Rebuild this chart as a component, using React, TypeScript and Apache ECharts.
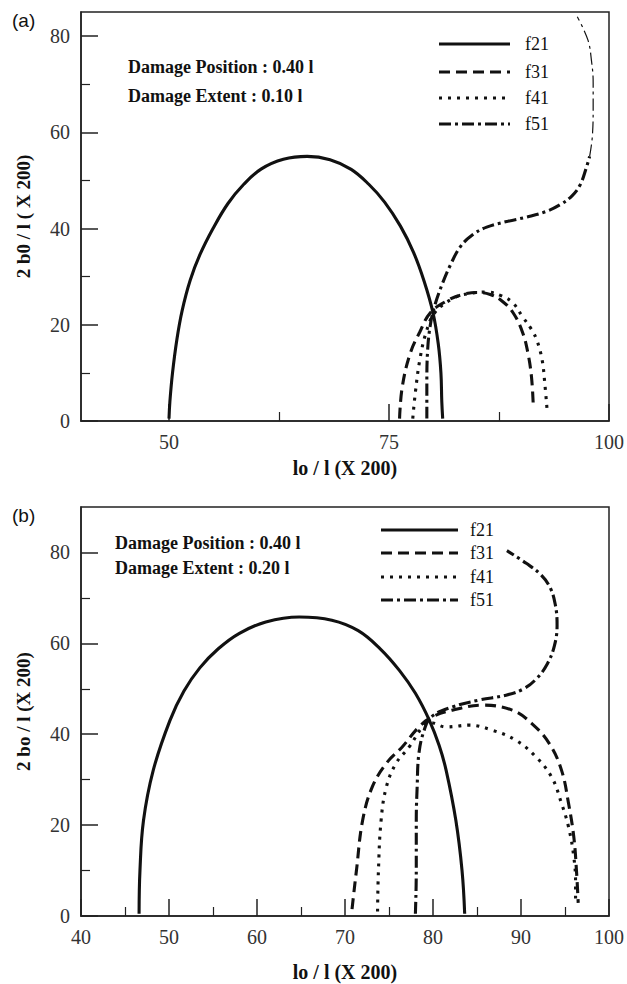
import React, { useEffect, useRef } from 'react';
import * as echarts from 'echarts';

// Panel (a): damage position 0.40 l, extent 0.10 l
const f21a: number[][] = [
  [50.0, 0.5], [50.1, 4], [50.4, 10], [50.9, 17], [51.5, 23], [52.4, 29.2], [53.5, 34.5], [55.0, 40],
  [56.7, 45.2], [58.5, 49.2], [60.5, 52.4], [63.0, 54.4], [65.7, 55.0], [68.3, 54.3], [70.7, 52.3],
  [72.7, 49.2], [74.5, 45.5], [76.3, 40.5], [77.8, 35], [79.0, 29], [80.0, 22.5], [80.6, 16],
  [80.9, 10], [81.0, 4], [81.1, 0.5],
];
const f31a: number[][] = [
  [76.2, 0.5], [76.5, 7], [77.4, 14], [78.5, 18.5], [79.7, 22.5], [81.6, 25], [83.2, 26.2], [85.0, 26.7],
  [86.5, 26.3], [87.8, 25], [89.1, 22.5], [90.2, 18.3], [90.8, 14], [91.2, 9], [91.4, 3],
];
const f41a: number[][] = [
  [77.7, 0.5], [78.0, 6], [78.5, 12.7], [79.2, 18.3], [80.2, 22.5], [82.3, 25.5], [84.2, 26.5], [86.1, 26.8],
  [87.8, 26], [89.1, 24.5], [90.2, 21.6], [91.2, 19], [91.8, 16.8], [92.4, 12.7], [92.7, 7.9], [93.0, 1.5],
];
const f51a: number[][] = [
  [79.3, 0.5], [79.3, 8], [79.4, 15], [79.7, 20], [80.2, 24], [81.1, 28.7], [82.0, 32.5], [83.1, 36.2],
  [84.5, 38.7], [86.1, 40.3], [88.5, 41.5], [90.7, 42.4], [92.8, 43.5], [94.4, 44.9], [95.8, 46.8],
  [96.7, 49], [97.4, 52.5], [97.8, 55],
];
const f51aUpper: number[][] = [
  [97.8, 55], [98.1, 59], [98.2, 65], [98.2, 70.3], [98.0, 75], [97.6, 79.2], [96.4, 84],
];

// Panel (b): damage position 0.40 l, extent 0.20 l
const f21b: number[][] = [
  [46.6, 0.5], [46.7, 10], [47.1, 21], [48.2, 32], [50.1, 43], [51.7, 49.5], [53.5, 54.6], [55.6, 58.8],
  [58.0, 62.2], [61.0, 64.7], [64.8, 65.8], [68.5, 65.1], [71.5, 62.8], [74.0, 58.8], [76.2, 54],
  [78.0, 49], [79.6, 43], [80.7, 37.5], [81.5, 32], [82.6, 21], [83.3, 10], [83.6, 0.5],
];
const f31b: number[][] = [
  [70.8, 1.5], [71.0, 5], [71.3, 10], [72.0, 21], [73.1, 28.4], [74.7, 33.6], [76.5, 37.2], [78.4, 41.6],
  [79.9, 43.8], [82.2, 45.3], [85.6, 46.4], [89.0, 45.3], [91.2, 42.4], [93.2, 38], [94.6, 32.1],
  [95.4, 24.8], [96.0, 17.4], [96.3, 10.1], [96.5, 2.9],
];
const f41b: number[][] = [
  [73.7, 1], [73.8, 10], [74.1, 21], [74.7, 28.4], [75.8, 33.6], [77.3, 37.2], [78.8, 41.6], [79.6, 42.6],
  [81.5, 41.6], [84.1, 42], [86.7, 40.9], [89.4, 38.7], [91.7, 35], [93.5, 30.5], [94.6, 24.8],
  [95.4, 19.6], [96.0, 13], [96.2, 7.3], [96.2, 3.5],
];
const f51b: number[][] = [
  [78.0, 0.5], [78.1, 10], [78.1, 21], [78.2, 28.4], [78.4, 35.8], [79.0, 40.9], [79.8, 43.8], [82.2, 46],
  [85.2, 47.5], [88.3, 48.6], [90.3, 50], [91.8, 52.3], [93.0, 55.5], [93.8, 59.5], [94.1, 64],
  [93.9, 68.5], [93.3, 72.3], [92.2, 75.2], [90.6, 77.6], [88.4, 80.4],
];

const xLabelsA = [50, 75, 100];
const xMinorA = [62.5, 87.5];
const xLabelsB = [40, 50, 60, 70, 80, 90, 100];
const xMinorB = [45, 55, 65, 75, 85, 95];
const yLabels = [0, 20, 40, 60, 80];
const yMinor = [10, 30, 50, 70];

const legendNames = ['f21', 'f31', 'f41', 'f51'];

const SERIF = '"Liberation Serif", "Times New Roman", serif';
const INK = '#111';
const AXIS = '#222';

const DASH_SOLID: number[] | null = null;
const DASH_LONG = [11, 6];
const DASH_DOT = [3, 6];
const DASH_CHAIN = [12, 4, 3, 4];
const lineDashes = [DASH_SOLID, DASH_LONG, DASH_DOT, DASH_CHAIN];

function majorX(gridIndex: number, labels: number[], nameGap: number) {
  return {
    type: 'value', gridIndex, min: 40, max: 100, position: 'bottom',
    name: 'lo / l (X 200)', nameLocation: 'middle', nameGap,
    nameTextStyle: { fontFamily: SERIF, fontWeight: 'bold', fontSize: 20, color: INK },
    axisLine: { show: true, lineStyle: { color: AXIS, width: 1.5 } },
    axisTick: { show: true, inside: true, length: 17, customValues: labels, lineStyle: { color: AXIS, width: 1.5 } },
    axisLabel: { show: true, customValues: labels, margin: 11, fontFamily: SERIF, fontSize: 20, color: '#333' },
    splitLine: { show: false },
  };
}
function minorX(gridIndex: number, ticks: number[]) {
  return {
    type: 'value', gridIndex, min: 40, max: 100, position: 'bottom', offset: 0,
    axisLine: { show: false },
    axisTick: { show: true, inside: true, length: 9, customValues: ticks, lineStyle: { color: AXIS, width: 1.2 } },
    axisLabel: { show: false },
    splitLine: { show: false },
  };
}
function majorY(gridIndex: number, max: number, name: string) {
  return {
    type: 'value', gridIndex, min: 0, max, position: 'left',
    name, nameLocation: 'middle', nameGap: 48, nameRotate: 90,
    nameTextStyle: { fontFamily: SERIF, fontWeight: 'bold', fontSize: 19, color: INK },
    axisLine: { show: true, lineStyle: { color: AXIS, width: 1.5 } },
    axisTick: { show: true, inside: true, length: 17, customValues: yLabels, lineStyle: { color: AXIS, width: 1.5 } },
    axisLabel: { show: true, customValues: yLabels, margin: 11, fontFamily: SERIF, fontSize: 20, color: '#333' },
    splitLine: { show: false },
  };
}
function minorY(gridIndex: number, max: number) {
  return {
    type: 'value', gridIndex, min: 0, max, position: 'left', offset: 0,
    axisLine: { show: false },
    axisTick: { show: true, inside: true, length: 9, customValues: yMinor, lineStyle: { color: AXIS, width: 1.2 } },
    axisLabel: { show: false },
    splitLine: { show: false },
  };
}

function curve(name: string, data: number[][], axis: number, dash: number[] | null, width = 3.1) {
  return {
    type: 'line', name, data, xAxisIndex: axis, yAxisIndex: axis,
    showSymbol: false, symbol: 'none', smooth: 0.4, clip: true,
    lineStyle: { color: INK, width, type: dash ? dash : 'solid', cap: 'butt' },
    z: 3,
  };
}

function legendBlock(x1: number, x2: number, textX: number, ys: number[]) {
  const items: any[] = [];
  ys.forEach((y, i) => {
    items.push({
      type: 'line', shape: { x1, y1: y, x2, y2: y },
      style: { stroke: INK, lineWidth: 3, lineDash: lineDashes[i] || undefined },
    });
    items.push({
      type: 'text', x: textX, y,
      style: { text: legendNames[i], font: `18px ${SERIF}`, fill: INK, verticalAlign: 'middle', align: 'left' },
    });
  });
  return items;
}

function note(x: number, y: number, text: string) {
  return {
    type: 'text', x, y,
    style: { text, font: `bold 18px ${SERIF}`, fill: INK, verticalAlign: 'middle', align: 'left' },
  };
}

function panelTag(x: number, y: number, text: string) {
  return {
    type: 'text', x, y,
    style: { text, font: '19px "Liberation Sans", Arial, sans-serif', fill: INK, verticalAlign: 'middle', align: 'left' },
  };
}

export default function App() {
  const ref = useRef<HTMLDivElement>(null);
  useEffect(() => {
    const chart = echarts.init(ref.current!, null, { renderer: 'svg' });
    const grid = { show: true, borderColor: AXIS, borderWidth: 1.5, backgroundColor: 'transparent' };
    chart.setOption({
      animation: false,
      backgroundColor: '#fff',
      grid: [
        { ...grid, left: 81, top: 12, width: 529, height: 409 },
        { ...grid, left: 81, top: 507, width: 529, height: 409 },
      ],
      xAxis: [
        majorX(0, xLabelsA, 37),
        majorX(1, xLabelsB, 46),
        minorX(0, xMinorA),
        minorX(1, xMinorB),
      ],
      yAxis: [
        majorY(0, 85, '2 b0 / l ( X 200)'),
        majorY(1, 90, '2 bo / l (X 200)'),
        minorY(0, 85),
        minorY(1, 90),
      ],
      series: [
        curve('f21', f21a, 0, DASH_SOLID),
        curve('f31', f31a, 0, DASH_LONG),
        curve('f41', f41a, 0, DASH_DOT),
        curve('f51', f51a, 0, DASH_CHAIN),
        curve('f51', f51aUpper, 0, DASH_CHAIN, 1.2),
        curve('f21', f21b, 1, DASH_SOLID),
        curve('f31', f31b, 1, DASH_LONG),
        curve('f41', f41b, 1, DASH_DOT),
        curve('f51', f51b, 1, DASH_CHAIN),
      ],
      graphic: [
        panelTag(12, 20, '(a)'),
        panelTag(12, 515, '(b)'),
        note(128, 67, 'Damage Position : 0.40 l'),
        note(128, 96, 'Damage Extent : 0.10 l'),
        note(115, 543, 'Damage Position : 0.40 l'),
        note(115, 568, 'Damage Extent : 0.20 l'),
        ...legendBlock(439, 510, 525, [44, 72, 98, 124]),
        ...legendBlock(381, 458, 470, [530, 553, 577, 600]),
      ],
    });
    return () => chart.dispose();
  }, []);
  return (
    <div
      ref={ref}
      style={{ position: 'absolute', left: 0, top: 0, width: 627, height: 984, background: '#fff' }}
    />
  );
}
